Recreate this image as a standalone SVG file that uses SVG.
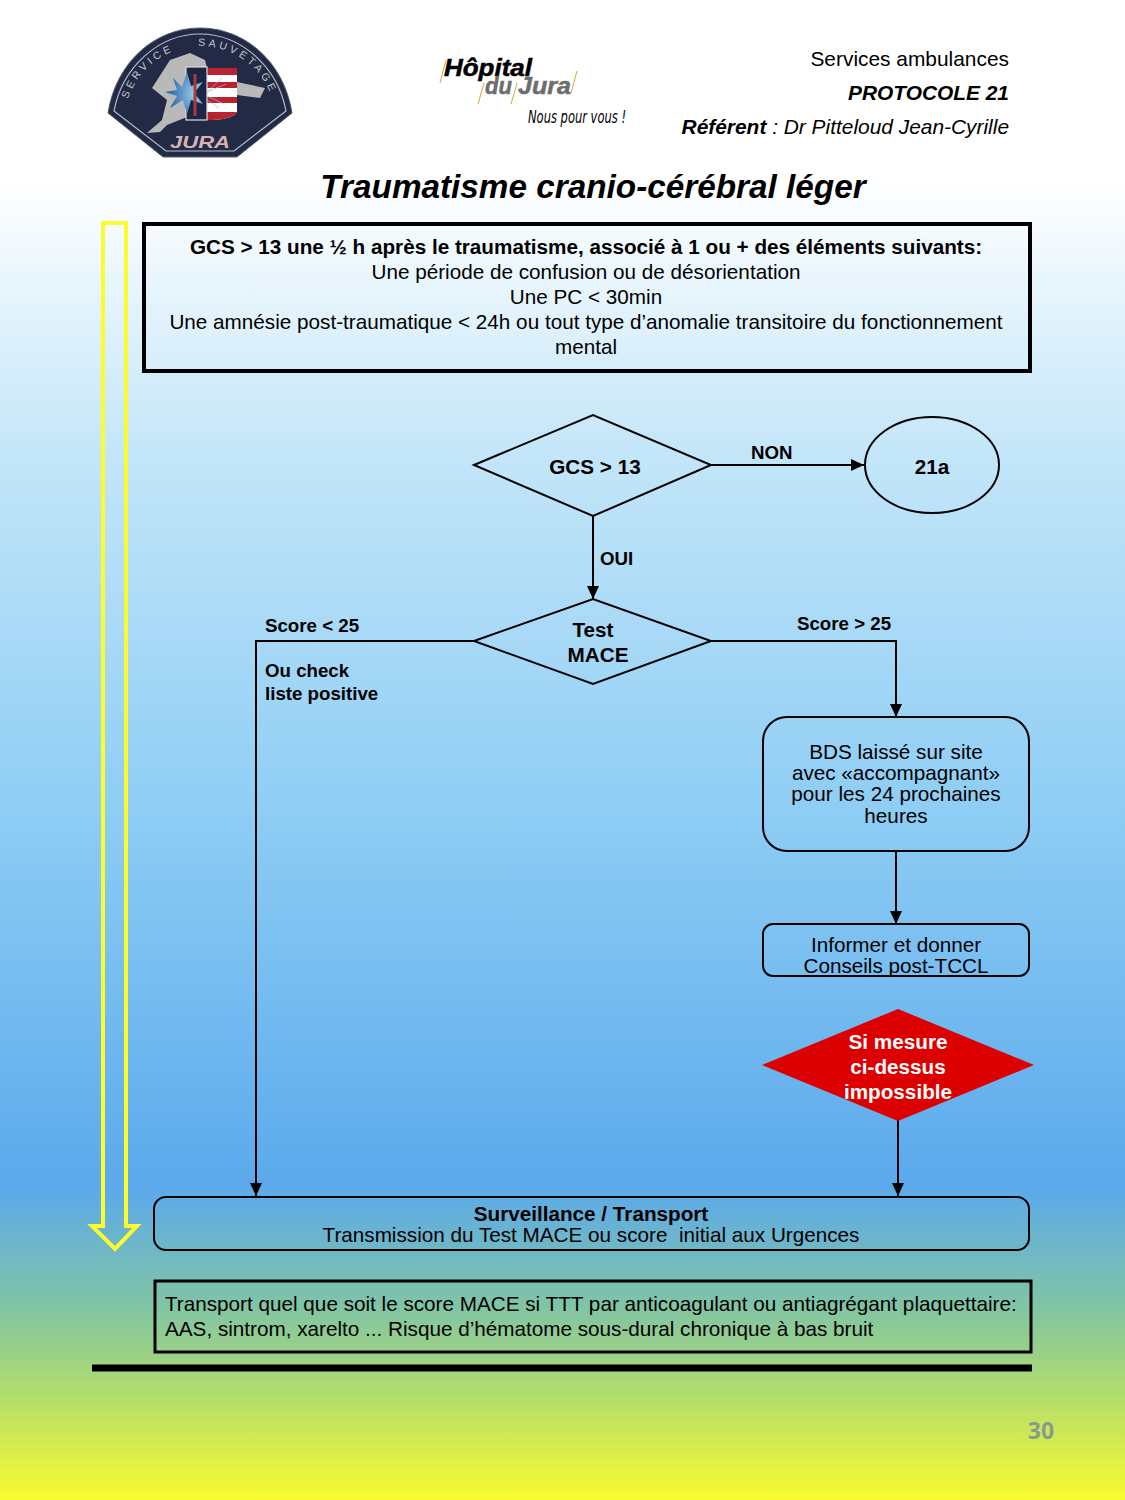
<svg xmlns="http://www.w3.org/2000/svg" width="1125" height="1500" viewBox="0 0 1125 1500">
<style>
text{font-family:"Liberation Sans",Arial,sans-serif;fill:#000}
.m{text-anchor:middle}
.t{font-size:20.7px}
.b{font-weight:bold}
.s{font-size:18.7px;font-weight:bold}
.n{fill:none;stroke:#000;stroke-width:2}
.c{fill:none;stroke:#000;stroke-width:2}
.h{font-size:20.9px}
.lg{font-size:10.500px;fill:#c8c8d0;letter-spacing:3.300px}
.lh{font-size:23px;font-style:italic;font-weight:bold}
</style>
<defs>
<linearGradient id="bg" x1="0" y1="0" x2="0" y2="1">
<stop offset="0" stop-color="#fff"/>
<stop offset="0.12" stop-color="#fff"/>
<stop offset="0.3" stop-color="#c4e6f9"/>
<stop offset="0.55" stop-color="#8cccf4"/>
<stop offset="0.79" stop-color="#5ba9ec"/>
<stop offset="0.87" stop-color="#80c4a6"/>
<stop offset="0.93" stop-color="#b2dd6c"/>
<stop offset="1" stop-color="#fafb30"/>
</linearGradient>
<radialGradient id="star" cx="0.85" cy="0.5" r="0.8"><stop offset="0" stop-color="#a9d4f0"/><stop offset="1" stop-color="#1f5fa8"/></radialGradient>
<marker id="a" markerUnits="userSpaceOnUse" markerWidth="14" markerHeight="14" refX="13" refY="6" orient="auto"><path d="M0 0L13 6L0 12z" fill="#000"/></marker>
<path id="arcL" d="M128 99A76 76 0 0 1 174 51"/>
<path id="arcR" d="M198 46A76 76 0 0 1 276 122"/>
</defs>
<rect width="1125" height="1500" fill="url(#bg)"/>

<g id="logo-service">
<path d="M108 113C116 62 155 28 200 28C245 28 284 62 292 113L237 157H163Z" fill="#222a45" stroke="#555b70" stroke-width="1"/>
<path d="M114 111C122 68 158 34 200 34C242 34 278 68 286 111L234 151H166Z" fill="none" stroke="#b9bcc6" stroke-width="1.200"/>
<path d="M147 133L162 120L167 100L152 88L170 60L190 53L205 60L207 68H237V82L265 88L260 98L237 95V112L187 117L167 125L160 132Z" fill="#b9b9b9"/>
<path d="M207 68H237V112Q232 120 207 120Z" fill="#fff"/>
<path d="M207 68H237V75H207ZM207 82H237V88H207ZM207 97H237V103H207ZM207 112H237Q232 120 207 120Z" fill="#b8232f"/>
<rect x="186" y="67" width="21" height="53" fill="#1c2746" stroke="#ddd" stroke-width="1.200"/>
<path d="M203 82L191 86L187 72L182 87L173 78L177 90L165 92L177 96L170 108L183 100L187 114L191 100L203 104L194 93Z" fill="url(#star)"/>
<path d="M195 74V116" stroke="#a83a3a" stroke-width="3" fill="none"/>
<path d="M207 92L222 78M207 92L226 84M207 96L224 104M207 100L219 108" stroke="#9fc4de" stroke-width="0.700" fill="none"/>
<text class="lg"><textPath href="#arcL">SERVICE</textPath></text>
<text class="lg"><textPath href="#arcR">SAUVETAGE</textPath></text>
<text x="170" y="148" class="b" style="font-size:17px;font-style:italic;fill:#d9b3b3" textLength="60" lengthAdjust="spacingAndGlyphs">JURA</text>
</g>

<g id="logo-hopital">
<path d="M446 60L440 83M484 83L478 104M517 83L511 104M577 71L571 93" stroke="#d9a441" stroke-width="1" fill="none"/>
<text x="444" y="76" class="lh" stroke="#000" stroke-width="0.500" textLength="88" lengthAdjust="spacingAndGlyphs">Hôpital</text>
<text x="485" y="94" class="lh" style="fill:#6d6d6d" stroke="#6d6d6d" stroke-width="0.500" textLength="27" lengthAdjust="spacingAndGlyphs">du</text>
<text x="518" y="94" class="lh" style="fill:#6d6d6d" stroke="#6d6d6d" stroke-width="0.500" textLength="53" lengthAdjust="spacingAndGlyphs">Jura</text>
<text x="528" y="123" style="font-size:18px;font-style:italic;font-family:'DejaVu Sans',sans-serif" textLength="98" lengthAdjust="spacingAndGlyphs">Nous pour vous !</text>
</g>

<g id="header">
<text x="1009" y="66" class="h" text-anchor="end">Services ambulances</text>
<text x="1009" y="100" class="h b" text-anchor="end" font-style="italic">PROTOCOLE 21</text>
<text x="1009" y="134" class="h" text-anchor="end" font-style="italic"><tspan font-weight="bold">Référent</tspan> : Dr Pitteloud Jean-Cyrille</text>
<text x="593" y="198" class="m b" style="font-size:33.300px;font-style:italic">Traumatisme cranio-cérébral léger</text>
</g>

<g id="progress-arrow">
<path d="M103 223H126V1226H137L115 1249L92 1226H103Z" fill="none" stroke="#fbfb2e" stroke-width="4"/>
</g>

<g id="criteria">
<rect x="144" y="224" width="886" height="147" fill="none" stroke="#000" stroke-width="4"/>
<text x="586" y="254" class="m t b">GCS &gt; 13 une ½ h après le traumatisme, associé à 1 ou + des éléments suivants:</text>
<text x="586" y="279" class="m t">Une période de confusion ou de désorientation</text>
<text x="586" y="304" class="m t">Une PC &lt; 30min</text>
<text x="586" y="329" class="m t">Une amnésie post-traumatique &lt; 24h ou tout type d’anomalie transitoire du fonctionnement</text>
<text x="586" y="354" class="m t">mental</text>
</g>

<g id="connectors">
<path class="c" d="M711 465H864" marker-end="url(#a)"/>
<path class="c" d="M593 516V599" marker-end="url(#a)"/>
<path class="c" d="M474 641H256V1196" marker-end="url(#a)"/>
<path class="c" d="M711 641H896V717" marker-end="url(#a)"/>
<path class="c" d="M896 851V924" marker-end="url(#a)"/>
<path class="c" d="M898 1120V1196" marker-end="url(#a)"/>
<text x="751" y="459" class="s">NON</text>
<text x="600" y="565" class="s">OUI</text>
<text x="265" y="632" class="s">Score &lt; 25</text>
<text x="797" y="630" class="s">Score &gt; 25</text>
<text x="265" y="677" class="s">Ou check</text>
<text x="265" y="700" class="s">liste positive</text>
</g>

<g id="gcs">
<path class="n" d="M474 465L593 415L711 465L593 516Z"/>
<text x="595" y="474" class="m t b">GCS &gt; 13</text>
</g>
<g id="n21a">
<ellipse class="n" cx="932" cy="465" rx="67" ry="48"/>
<text x="932" y="474" class="m t b">21a</text>
</g>
<g id="mace">
<path class="n" d="M474 641L593 599L711 641L593 684Z"/>
<text x="593" y="637" class="m t b">Test</text>
<text x="598" y="662" class="m t b">MACE</text>
</g>
<g id="bds">
<rect class="n" x="763" y="717" width="266" height="134" rx="24"/>
<text x="896" y="759" class="m t">BDS laissé sur site</text>
<text x="896" y="780" class="m t">avec «accompagnant»</text>
<text x="896" y="801" class="m t">pour les 24 prochaines</text>
<text x="896" y="823" class="m t">heures</text>
</g>
<g id="informer">
<rect class="n" x="763" y="924" width="266" height="52" rx="10"/>
<text x="896" y="952" class="m t">Informer et donner</text>
<text x="896" y="973" class="m t">Conseils post-TCCL</text>
</g>
<g id="impossible">
<path d="M762 1065L898 1009L1034 1065L898 1121Z" fill="#dd0000"/>
<text x="898" y="1049" class="m t b" style="fill:#fff">Si mesure</text>
<text x="898" y="1074" class="m t b" style="fill:#fff">ci-dessus</text>
<text x="898" y="1099" class="m t b" style="fill:#fff">impossible</text>
</g>
<g id="surveillance">
<rect class="n" x="154" y="1197" width="875" height="53" rx="12"/>
<text x="591" y="1221" class="m t b">Surveillance / Transport</text>
<text x="591" y="1242" class="m t" xml:space="preserve">Transmission du Test MACE ou score  initial aux Urgences</text>
</g>
<g id="note">
<rect x="155" y="1281" width="876" height="71" fill="none" stroke="#000" stroke-width="3"/>
<text x="165" y="1311" class="t">Transport quel que soit le score MACE si TTT par anticoagulant ou antiagrégant plaquettaire:</text>
<text x="165" y="1336" class="t">AAS, sintrom, xarelto ... Risque d’hématome sous-dural chronique à bas bruit</text>
</g>
<g id="footer">
<path d="M92 1368H1032" stroke="#000" stroke-width="7"/>
<text x="1041" y="1439" class="m b" style="font-size:23px;fill:#8a9a8a;font-family:'Open Sans',sans-serif">30</text>
</g>
</svg>
